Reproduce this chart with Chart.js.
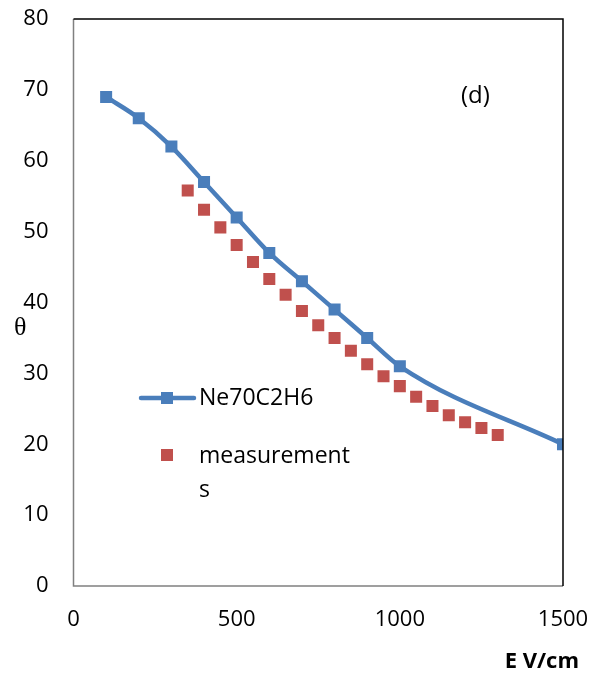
<!DOCTYPE html>
<html>
<head>
<meta charset="utf-8">
<script src="https://cdn.jsdelivr.net/npm/chart.js@4"></script>
<style>
  html, body { margin: 0; padding: 0; background: #fff; }
  #wrap { width: 599px; height: 679px; }
</style>
</head>
<body>
<div id="wrap"><canvas id="chart"></canvas></div>
<script>
// simulation curve
const simX = [100, 200, 300, 400, 500, 600, 700, 800, 900, 1000, 1500];
const simY = [69, 66, 62, 57, 52, 47, 43, 39, 35, 31, 20];

// measured points
const measX = [350, 400, 450, 500, 550, 600, 650, 700, 750, 800, 850, 900, 950, 1000, 1050, 1100, 1150, 1200, 1250, 1300];
const measY = [55.8, 53.1, 50.6, 48.1, 45.7, 43.3, 41.1, 38.8, 36.8, 35.0, 33.2, 31.3, 29.6, 28.2, 26.7, 25.4, 24.1, 23.1, 22.3, 21.3];

const xTicks = [0, 500, 1000, 1500];
const yTicks = [0, 10, 20, 30, 40, 50, 60, 70, 80];

const blue = '#4a7ebb';
const red = '#c0504d';
const font = '"Open Sans", "Liberation Sans", sans-serif';

// frame, labels and in-plot legend
const extras = {
    id: 'extras',
    afterDatasetsDraw(chart) {
        const ctx = chart.ctx;
        const a = chart.chartArea;
        ctx.save();
        ctx.strokeStyle = '#808080';
        ctx.lineWidth = 1.5;
        ctx.beginPath();
        ctx.moveTo(a.left, a.top);
        ctx.lineTo(a.left, a.bottom);
        ctx.lineTo(a.right, a.bottom);
        ctx.stroke();
        ctx.strokeStyle = '#000';
        ctx.beginPath();
        ctx.moveTo(a.left, a.top);
        ctx.lineTo(a.right, a.top);
        ctx.lineTo(a.right, a.bottom);
        ctx.stroke();

        ctx.fillStyle = '#000';
        ctx.textBaseline = 'middle';
        ctx.textAlign = 'left';
        ctx.font = '24px ' + font;
        ctx.fillText('(d)', 461, 96);

        ctx.font = '26px "Liberation Serif", serif';
        ctx.fillText('θ', 14, 328);

        ctx.font = 'bold 22px ' + font;
        ctx.textAlign = 'right';
        ctx.fillText('E V/cm', 579, 662);

        // legend
        const ds = chart.data.datasets;
        ctx.textAlign = 'left';
        ctx.font = '23px ' + font;
        ctx.strokeStyle = blue;
        ctx.lineWidth = 4.5;
        ctx.lineCap = 'round';
        ctx.beginPath();
        ctx.moveTo(141, 398);
        ctx.lineTo(194, 398);
        ctx.stroke();
        ctx.fillStyle = blue;
        ctx.fillRect(161, 392, 12, 12);
        ctx.fillStyle = '#000';
        ctx.fillText(ds[0].label, 199, 398);

        ctx.fillStyle = red;
        ctx.fillRect(161, 449, 12, 12);
        ctx.fillStyle = '#000';
        ctx.fillText('measurement', 199, 456);
        ctx.fillText('s', 199, 490);
        ctx.restore();
    }
};

new Chart(document.getElementById('chart'), {
    type: 'scatter',
    data: {
        datasets: [
            {
                label: 'Ne70C2H6',
                data: simX.map((x, i) => ({ x: x, y: simY[i] })),
                showLine: true,
                borderColor: blue,
                backgroundColor: blue,
                borderWidth: 4.5,
                cubicInterpolationMode: 'monotone',
                pointStyle: 'rect',
                pointRadius: 8.5,
                pointBorderWidth: 0,
                order: 1
            },
            {
                label: 'measurements',
                data: measX.map((x, i) => ({ x: x, y: measY[i] })),
                showLine: false,
                borderColor: red,
                backgroundColor: red,
                pointStyle: 'rect',
                pointRadius: 8.5,
                pointBorderWidth: 0,
                order: 2
            }
        ]
    },
    options: {
        responsive: true,
        maintainAspectRatio: false,
        animation: false,
        events: [],
        layout: { padding: { left: 0, right: 36, top: 19, bottom: 0 } },
        plugins: { legend: { display: false }, tooltip: { enabled: false } },
        scales: {
            x: {
                type: 'linear',
                min: 0,
                max: 1500,
                afterBuildTicks: axis => { axis.ticks = xTicks.map(v => ({ value: v })); },
                afterFit: axis => {
                    axis.height = 93;
                    axis.paddingLeft = 0;
                    axis.paddingRight = 0;
                },
                grid: { display: false, drawTicks: false },
                border: { display: false },
                ticks: {
                    color: '#000', padding: 21, font: { family: font, size: 22 },
                    maxRotation: 0,
                    callback: v => String(v)
                }
            },
            y: {
                min: 0,
                max: 80,
                afterBuildTicks: axis => { axis.ticks = yTicks.map(v => ({ value: v })); },
                afterFit: axis => {
                    axis.width = 73.5;
                    axis.paddingTop = 0;
                    axis.paddingBottom = 0;
                },
                grid: { display: false, drawTicks: false },
                border: { display: false },
                ticks: { color: '#000', padding: 25, font: { family: font, size: 22 } }
            }
        }
    },
    plugins: [extras]
});
</script>
</body>
</html>
